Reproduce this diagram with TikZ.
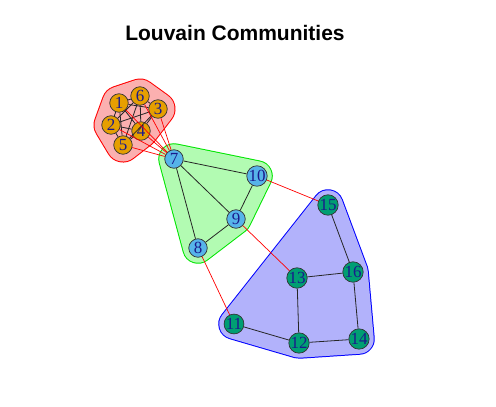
\documentclass[tikz,border=0pt]{standalone}
\usepackage{fontspec}
\setmainfont{Liberation Serif}
\newfontfamily\titlefont{Liberation Sans}
\definecolor{ncA}{HTML}{E69F00}
\definecolor{ncB}{HTML}{56B4E9}
\definecolor{ncC}{HTML}{009E73}
\definecolor{hullRfill}{HTML}{FBB0B0}
\definecolor{hullGfill}{HTML}{B2FBB2}
\definecolor{hullBfill}{HTML}{B2B2FB}
\definecolor{lbl}{HTML}{1A1A8C}
\begin{document}
\begin{tikzpicture}[x=1pt,y=-1pt,
  vtx/.style={circle,draw=black!80,line width=0.7pt,minimum size=18.5pt,inner sep=0pt,
    text=lbl,font=\fontsize{17}{17}\selectfont},
  inedge/.style={draw=black!85,line width=0.8pt},
  xedge/.style={draw=red,line width=0.7pt},
  hullout/.style={line width=31.5pt,line join=round},
  hullin/.style={line width=29.5pt,line join=round},
  hulloutR/.style={line width=35pt,line join=round},
  hullinR/.style={line width=33pt,line join=round}]
\useasboundingbox (0,0) rectangle (496,407);
% coordinates
\coordinate (c1) at (119,103);
\coordinate (c2) at (111,125);
\coordinate (c3) at (158,109);
\coordinate (c4) at (141,131);
\coordinate (c5) at (123,145);
\coordinate (c6) at (140,96);
\coordinate (c7) at (174,159);
\coordinate (c8) at (198,248);
\coordinate (c9) at (236,219);
\coordinate (c10) at (257,176);
\coordinate (c11) at (234,324);
\coordinate (c12) at (299,343);
\coordinate (c13) at (297,278);
\coordinate (c14) at (359,339);
\coordinate (c15) at (328,205);
\coordinate (c16) at (353,272);
% hulls
\draw[hulloutR,draw=red] (c1) -- (c6) -- (c3) -- (c4) -- (c5) -- (c2) -- cycle;
\draw[hullinR,draw=hullRfill,fill=hullRfill] (c1) -- (c6) -- (c3) -- (c4) -- (c5) -- (c2) -- cycle;
\draw[hullout,draw=green!90!black] (c7) -- (c10) -- (c9) -- (c8) -- cycle;
\draw[hullin,draw=hullGfill,fill=hullGfill] (c7) -- (c10) -- (c9) -- (c8) -- cycle;
\draw[hullout,draw=blue] (c15) -- (c16) -- (c14) -- (c12) -- (c11) -- cycle;
\draw[hullin,draw=hullBfill,fill=hullBfill] (c15) -- (c16) -- (c14) -- (c12) -- (c11) -- cycle;
% title
\node[font=\titlefont\bfseries\fontsize{21}{21}\selectfont,anchor=base] (title) at (235,40) {Louvain Communities};
% nodes
\foreach \i in {1,...,6} {\node[vtx,fill=ncA] (n\i) at (c\i) {\i};}
\foreach \i in {7,...,10} {\node[vtx,fill=ncB] (n\i) at (c\i) {\i};}
\foreach \i in {11,...,16} {\node[vtx,fill=ncC] (n\i) at (c\i) {\i};}
% edges within community 1
\foreach \a/\b in {1/2,1/3,1/4,1/5,1/6,2/3,2/4,2/5,2/6,3/4,3/5,3/6,4/5,4/6,5/6}
  {\draw[inedge] (n\a) -- (n\b);}
% bridge edges
\foreach \a in {1,...,6} {\draw[xedge] (n\a) -- (n7);}
\draw[xedge] (n10) -- (n15);
\draw[xedge] (n9) -- (n13);
\draw[xedge] (n8) -- (n11);
% within community 2 and 3
\foreach \a/\b in {7/10,7/9,7/8,10/9,9/8,15/16,16/13,16/14,13/12,11/12,12/14}
  {\draw[inedge] (n\a) -- (n\b);}
\end{tikzpicture}
\end{document}
